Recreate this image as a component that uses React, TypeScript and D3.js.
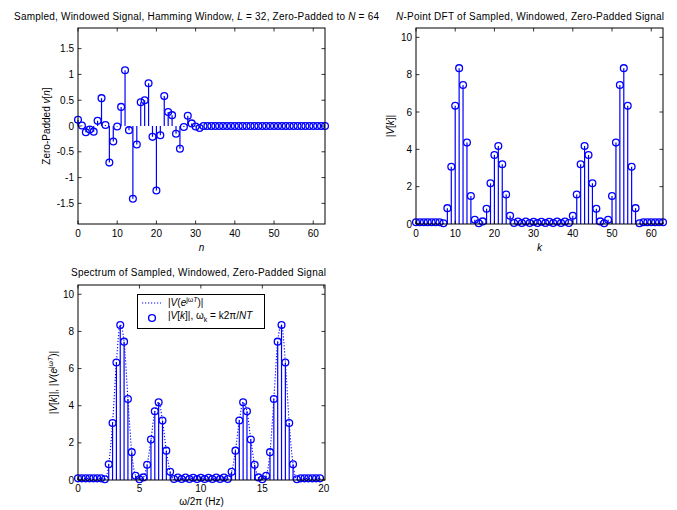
import React from "react";
import * as d3 from "d3";

const W = 677;
const H = 510;

// Zero-padded windowed signal v[n], n = 0..63
const vn: number[] = [
  0.12, 0.01, -0.12, -0.07, -0.11, 0.1, 0.54, 0.02, -0.71, -0.3,
  -0.01, 0.37, 1.08, -0.08, -1.41, -0.36, 0.46, 0.5, 0.83, -0.21,
  -1.25, -0.18, 0.58, 0.27, 0.21, -0.15, -0.44, -0.02, 0.2, 0.05,
  -0.01, -0.04, 0, 0, 0, 0, 0, 0, 0, 0,
  0, 0, 0, 0, 0, 0, 0, 0, 0, 0,
  0, 0, 0, 0, 0, 0, 0, 0, 0, 0,
  0, 0, 0, 0,
];

// |V[k]|, k = 0..63
const Vk: number[] = [
  0.09, 0.09, 0.09, 0.09, 0.09, 0.09, 0.09, 0.04, 0.85, 3.07,
  6.33, 8.35, 7.45, 4.36, 1.5, 0.23, 0.04, 0.14, 0.82, 2.18,
  3.7, 4.18, 3.2, 1.58, 0.44, 0.05, 0.13, 0.05, 0.13, 0.05,
  0.12, 0.05, 0.12, 0.05, 0.12, 0.05, 0.13, 0.05, 0.13, 0.05,
  0.44, 1.58, 3.2, 4.18, 3.7, 2.18, 0.82, 0.14, 0.04, 0.23,
  1.5, 4.36, 7.45, 8.35, 6.33, 3.07, 0.85, 0.04, 0.09, 0.09,
  0.09, 0.09, 0.09, 0.09,
];

const fs = 20; // Hz
const Npts = 64;

const ticksN = [0, 10, 20, 30, 40, 50, 60];
const ticksVn = [-1.5, -1, -0.5, 0, 0.5, 1, 1.5];
const ticksMag = [0, 2, 4, 6, 8, 10];
const ticksHz = [0, 5, 10, 15, 20];

const FONT = "'Liberation Sans', Arial, Helvetica, sans-serif";
const BLUE = "#0000ff";
const FS = 10;

type Box = { x0: number; x1: number; y0: number; y1: number };

function Frame({
  box,
  xs,
  ys,
  xticks,
  yticks,
  xLabelDy,
}: {
  box: Box;
  xs: d3.ScaleLinear<number, number>;
  ys: d3.ScaleLinear<number, number>;
  xticks: number[];
  yticks: number[];
  xLabelDy: number;
}) {
  const tl = 3.5;
  return (
    <g>
      {xticks.map((t) => (
        <g key={"x" + t}>
          <line x1={xs(t)} x2={xs(t)} y1={box.y1} y2={box.y1 - tl} stroke="#000" strokeWidth={0.8} />
          <line x1={xs(t)} x2={xs(t)} y1={box.y0} y2={box.y0 + tl} stroke="#000" strokeWidth={0.8} />
          <text x={xs(t)} y={box.y1 + xLabelDy} textAnchor="middle" fontSize={FS} fontFamily={FONT} fill="#000">
            {t}
          </text>
        </g>
      ))}
      {yticks.map((t) => (
        <g key={"y" + t}>
          <line x1={box.x0} x2={box.x0 + tl} y1={ys(t)} y2={ys(t)} stroke="#000" strokeWidth={0.8} />
          <line x1={box.x1} x2={box.x1 - tl} y1={ys(t)} y2={ys(t)} stroke="#000" strokeWidth={0.8} />
          <text x={box.x0 - 4} y={ys(t) + 3.5} textAnchor="end" fontSize={FS} fontFamily={FONT} fill="#000">
            {t}
          </text>
        </g>
      ))}
      <rect x={box.x0} y={box.y0} width={box.x1 - box.x0} height={box.y1 - box.y0} fill="none" stroke="#000" strokeWidth={1} />
    </g>
  );
}

function Stems({
  xs,
  ys,
  xv,
  yv,
}: {
  xs: d3.ScaleLinear<number, number>;
  ys: d3.ScaleLinear<number, number>;
  xv: number[];
  yv: number[];
}) {
  return (
    <g>
      {yv.map((v, i) => (
        <line key={"s" + i} x1={xs(xv[i])} x2={xs(xv[i])} y1={ys(0)} y2={ys(v)} stroke={BLUE} strokeWidth={1.2} />
      ))}
      {yv.map((v, i) => (
        <circle key={"c" + i} cx={xs(xv[i])} cy={ys(v)} r={3.4} fill="none" stroke={BLUE} strokeWidth={1.3} />
      ))}
    </g>
  );
}

export default function App() {
  const idx = d3.range(Npts);

  // Top-left
  const b1: Box = { x0: 78, x1: 325, y0: 28, y1: 224 };
  const x1s = d3.scaleLinear().domain([0, 63]).range([b1.x0, b1.x1]);
  const y1s = d3.scaleLinear().domain([-1.9, 1.9]).range([b1.y1, b1.y0]);

  // Top-right
  const b2: Box = { x0: 416, x1: 663, y0: 28, y1: 224 };
  const x2s = d3.scaleLinear().domain([0, 63]).range([b2.x0, b2.x1]);
  const y2s = d3.scaleLinear().domain([0, 10.5]).range([b2.y1, b2.y0]);

  // Bottom
  const b3: Box = { x0: 78, x1: 325, y0: 285, y1: 480 };
  const x3s = d3.scaleLinear().domain([0, 20.1]).range([b3.x0, b3.x1]);
  const y3s = d3.scaleLinear().domain([0, 10.5]).range([b3.y1, b3.y0]);
  const freqs = idx.map((k) => (k * fs) / Npts);
  const dtft = d3
    .line<number>()
    .x((_, i) => x3s(freqs[i]))
    .y((d) => y3s(d))
    .curve(d3.curveMonotoneX)(Vk) as string;

  const italic = { fontStyle: "italic" as const };

  return (
    <svg
      width={W}
      height={H}
      style={{ position: "absolute", left: 0, top: 0, display: "block", background: "#fff" }}
      fontFamily={FONT}
    >
      <rect x={0} y={0} width={W} height={H} fill="#fff" />

      {/* Top-left */}
      <text x={14} y={20} fontSize={FS} fill="#000" textLength={365} lengthAdjust="spacing">
        Sampled, Windowed Signal, Hamming Window, <tspan {...italic}>L</tspan> = 32, Zero-Padded to{" "}
        <tspan {...italic}>N</tspan> = 64
      </text>
      <Stems xs={x1s} ys={y1s} xv={idx} yv={vn} />
      <Frame box={b1} xs={x1s} ys={y1s} xticks={ticksN} yticks={ticksVn} xLabelDy={13} />
      <text x={(b1.x0 + b1.x1) / 2} y={251} textAnchor="middle" fontSize={FS} fill="#000" {...italic}>
        n
      </text>
      <text
        transform={`translate(50,${(b1.y0 + b1.y1) / 2}) rotate(-90)`}
        textAnchor="middle"
        fontSize={FS}
        fill="#000"
      >
        Zero-Padded <tspan {...italic}>v</tspan>[<tspan {...italic}>n</tspan>]
      </text>

      {/* Top-right */}
      <text x={396} y={20} fontSize={FS} fill="#000" textLength={268} lengthAdjust="spacing">
        <tspan {...italic}>N</tspan>-Point DFT of Sampled, Windowed, Zero-Padded Signal
      </text>
      <Stems xs={x2s} ys={y2s} xv={idx} yv={Vk} />
      <Frame box={b2} xs={x2s} ys={y2s} xticks={ticksN} yticks={ticksMag} xLabelDy={13} />
      <text x={(b2.x0 + b2.x1) / 2} y={251} textAnchor="middle" fontSize={FS} fill="#000" {...italic}>
        k
      </text>
      <text
        transform={`translate(394,${(b2.y0 + b2.y1) / 2}) rotate(-90)`}
        textAnchor="middle"
        fontSize={FS}
        fill="#000"
      >
        |<tspan {...italic}>V</tspan>[<tspan {...italic}>k</tspan>]|
      </text>

      {/* Bottom */}
      <text x={71} y={276} fontSize={FS} fill="#000" textLength={255} lengthAdjust="spacing">
        Spectrum of Sampled, Windowed, Zero-Padded Signal
      </text>
      <path d={dtft} fill="none" stroke={BLUE} strokeWidth={1.1} strokeDasharray="1.2,1.8" />
      <Stems xs={x3s} ys={y3s} xv={freqs} yv={Vk} />
      <Frame box={b3} xs={x3s} ys={y3s} xticks={ticksHz} yticks={ticksMag} xLabelDy={12} />
      <text x={(b3.x0 + b3.x1) / 2} y={505} textAnchor="middle" fontSize={FS} fill="#000">
        ω/2π (Hz)
      </text>
      <text
        transform={`translate(57,${(b3.y0 + b3.y1) / 2}) rotate(-90)`}
        textAnchor="middle"
        fontSize={FS}
        fill="#000"
      >
        |<tspan {...italic}>V</tspan>[<tspan {...italic}>k</tspan>]|, |<tspan {...italic}>V</tspan>(
        <tspan {...italic}>e</tspan>
        <tspan fontSize={7} dy={-4}>
          jω<tspan {...italic}>T</tspan>
        </tspan>
        <tspan dy={4}>)|</tspan>
      </text>

      {/* Legend */}
      <g>
        <rect x={137.5} y={294.5} width={127} height={34} fill="#fff" stroke="#000" strokeWidth={1} />
        <line x1={142} x2={161} y1={303} y2={303} stroke={BLUE} strokeWidth={1.1} strokeDasharray="1.2,1.8" />
        <text x={168} y={306} fontSize={FS} fill="#000">
          |<tspan {...italic}>V</tspan>(<tspan {...italic}>e</tspan>
          <tspan fontSize={7} dy={-4}>
            jω<tspan {...italic}>T</tspan>
          </tspan>
          <tspan dy={4}>)|</tspan>
        </text>
        <circle cx={152} cy={318} r={3.4} fill="none" stroke={BLUE} strokeWidth={1.4} />
        <text x={168} y={319} fontSize={FS} fill="#000">
          |<tspan {...italic}>V</tspan>[<tspan {...italic}>k</tspan>]|, ω
          <tspan fontSize={7} dy={3}>k</tspan>
          <tspan dy={-3}> = k2π/</tspan>
          <tspan {...italic}>NT</tspan>
        </text>
      </g>
    </svg>
  );
}
